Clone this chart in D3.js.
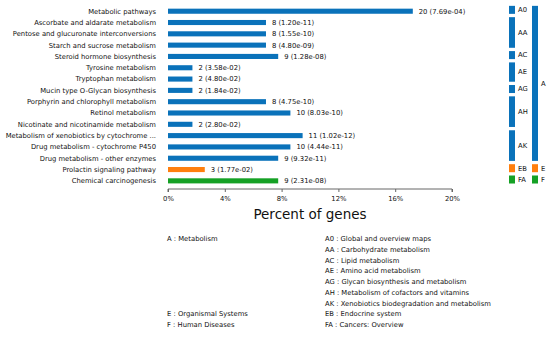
<!DOCTYPE html>
<html><head><meta charset="utf-8">
<script src="https://cdn.jsdelivr.net/npm/d3@7"></script>
<style>body{margin:0;background:#fff;} text{font-family:"DejaVu Sans",sans-serif;fill:#111;}</style>
</head><body>
<svg id="c" width="550" height="337"></svg>
<script>
const pathways = ["Metabolic pathways","Ascorbate and aldarate metabolism","Pentose and glucuronate interconversions","Starch and sucrose metabolism","Steroid hormone biosynthesis","Tyrosine metabolism","Tryptophan metabolism","Mucin type O-Glycan biosynthesis","Porphyrin and chlorophyll metabolism","Retinol metabolism","Nicotinate and nicotinamide metabolism","Metabolism of xenobiotics by cytochrome ...","Drug metabolism - cytochrome P450","Drug metabolism - other enzymes","Prolactin signaling pathway","Chemical carcinogenesis"];
const geneCounts = [20,8,8,8,9,2,2,2,8,10,2,11,10,9,3,9];
const percents = [17.24,6.90,6.90,6.90,7.76,1.72,1.72,1.72,6.90,8.62,1.72,9.48,8.62,7.76,2.59,7.76];
const pValues = ["7.69e-04","1.20e-11","1.55e-10","4.80e-09","1.28e-08","3.58e-02","4.80e-02","1.84e-02","4.75e-10","8.03e-10","2.80e-02","1.02e-12","4.44e-11","9.32e-11","1.77e-02","2.31e-08"];
const level1 = ["A","A","A","A","A","A","A","A","A","A","A","A","A","A","E","F"];
const level2 = ["A0","AA","AA","AA","AC","AE","AE","AG","AH","AH","AH","AK","AK","AK","EB","FA"];
const xTicks = [0,4,8,12,16,20];
const level1Names = [["A","Metabolism"],["E","Organismal Systems"],["F","Human Diseases"]];
const level2Names = [["A0","Global and overview maps"],["AA","Carbohydrate metabolism"],["AC","Lipid metabolism"],["AE","Amino acid metabolism"],["AG","Glycan biosynthesis and metabolism"],["AH","Metabolism of cofactors and vitamins"],["AK","Xenobiotics biodegradation and metabolism"],["EB","Endocrine system"],["FA","Cancers: Overview"]];
const colors = {A:"#0a72ba",E:"#ff7f0e",F:"#15a125"};

const svg = d3.select("#c");
const x = d3.scaleLinear().domain([0,20]).range([168,452]);
const step = 11.31, top0 = 5.55;
const y = d3.scaleBand().domain(pathways).range([top0, top0+step*pathways.length]).paddingInner(0.55).paddingOuter(0.275);
const fs = 6.8;

const rows = pathways.map((p,i)=>({p, n:geneCounts[i], pct:percents[i], pv:pValues[i], l1:level1[i], l2:level2[i]}));

svg.append("g").selectAll("rect").data(rows).join("rect")
  .attr("x", x(0)).attr("y", d=>y(d.p)).attr("width", d=>x(d.pct)-x(0)).attr("height", y.bandwidth())
  .attr("fill", d=>colors[d.l1]);
svg.append("g").selectAll("text").data(rows).join("text")
  .attr("x", d=>x(d.pct)+6).attr("y", d=>y(d.p)+y.bandwidth()/2).attr("dy","0.35em")
  .style("font-size", fs+"px").text(d=>`${d.n} (${d.pv})`);
svg.append("g").selectAll("text").data(rows).join("text")
  .attr("x", 156).attr("y", d=>y(d.p)+y.bandwidth()/2).attr("dy","0.35em").attr("text-anchor","end")
  .style("font-size", fs+"px").text(d=>d.p);

const ax = svg.append("g").attr("transform","translate(0,189)")
  .call(d3.axisBottom(x).tickValues(xTicks).tickFormat(d=>d+"%").tickSize(3).tickPadding(4));
ax.select(".domain").attr("stroke","#666").attr("d", `M${x(0)},3V0H${x(20)}V3`);
ax.selectAll(".tick line").attr("stroke","#666");
ax.selectAll("text").style("font-size","6.8px").style("font-family","DejaVu Sans").attr("fill","#111");
svg.append("text").attr("x",(x(0)+x(20))/2).attr("y",218.5).attr("text-anchor","middle")
  .style("font-size","13.5px").text("Percent of genes");

function groups(key){
  const out=[]; rows.forEach((r,i)=>{const k=r[key]; if(out.length && out[out.length-1].k===k){out[out.length-1].end=i;} else out.push({k, start:i, end:i, l1:r.l1});});
  return out;
}
const gTop = g => y.step()*g.start + top0 + 0.3;
const gH = g => (g.end-g.start+1)*y.step() - 3.3;
const g2 = groups("l2"), g1 = groups("l1");
svg.append("g").selectAll("rect").data(g2).join("rect")
  .attr("x",509).attr("width",6).attr("y",gTop).attr("height",gH).attr("fill",d=>colors[d.l1]);
svg.append("g").selectAll("text").data(g2).join("text")
  .attr("x",518).attr("y",d=>gTop(d)+gH(d)/2).attr("dy","0.35em").style("font-size",fs+"px").text(d=>d.k);
svg.append("g").selectAll("rect").data(g1).join("rect")
  .attr("x",532).attr("width",6).attr("y",gTop).attr("height",gH).attr("fill",d=>colors[d.l1]);
svg.append("g").selectAll("text").data(g1).join("text")
  .attr("x",541).attr("y",d=>gTop(d)+gH(d)/2).attr("dy","0.35em").style("font-size",fs+"px").text(d=>d.k);

const ly0 = 239, lstep = 10.7;
const l1Row = {A:0,E:7,F:8};
svg.append("g").selectAll("text").data(level1Names).join("text")
  .attr("x",167).attr("y",d=>ly0+l1Row[d[0]]*lstep).attr("dy","0.35em").style("font-size",fs+"px")
  .text(d=>`${d[0]} : ${d[1]}`);
svg.append("g").selectAll("text").data(level2Names).join("text")
  .attr("x",325).attr("y",(d,i)=>ly0+i*lstep).attr("dy","0.35em").style("font-size",fs+"px")
  .text(d=>`${d[0]} : ${d[1]}`);
</script>
</body></html>
